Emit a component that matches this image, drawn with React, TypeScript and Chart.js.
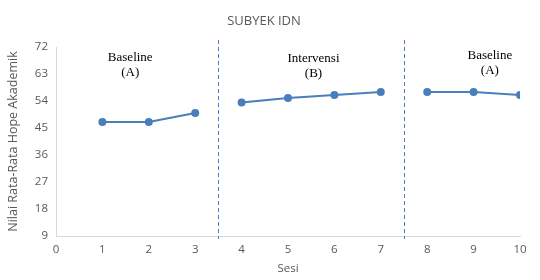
import React, { useEffect, useRef } from "react";
import { Chart, registerables } from "chart.js";

Chart.register(...registerables);

const baselineA1Sessions = [1, 2, 3];
const baselineA1Values = [47, 47, 50];
const interventionSessions = [4, 5, 6, 7];
const interventionValues = [53.5, 55, 56, 57];
const baselineA2Sessions = [8, 9, 10];
const baselineA2Values = [57, 57, 56];
const phaseBoundaries = [3.5, 7.5];
const phaseLabels = [
  { lines: ["Baseline", "(A)"], x: 1.6, y: 68.5 },
  { lines: ["Intervensi", "(B)"], x: 5.55, y: 68.2 },
  { lines: ["Baseline", "(A)"], x: 9.35, y: 69 },
];
const chartTitle = "SUBYEK IDN";
const yTitle = "Nilai Rata-Rata Hope Akademik";
const xTitle = "Sesi";

const LINE_COLOR = "#4a7ebb";

const toPoints = (xs: number[], ys: number[]) => xs.map((x, i) => ({ x, y: ys[i] }));

const overlayPlugin = {
  id: "overlay",
  afterDatasetsDraw(chart: any) {
    const { ctx, scales, chartArea } = chart;
    const xs = scales.x;
    const ys = scales.y;
    ctx.save();
    ctx.strokeStyle = "#4a7ebb";
    ctx.lineWidth = 1;
    ctx.setLineDash([4, 3]);
    phaseBoundaries.forEach((b) => {
      const px = Math.round(xs.getPixelForValue(b)) + 0.5;
      ctx.beginPath();
      ctx.moveTo(px, chartArea.top - 7);
      ctx.lineTo(px, chartArea.bottom + 3);
      ctx.stroke();
    });
    ctx.setLineDash([]);
    ctx.fillStyle = "#000";
    ctx.font = "13px 'Liberation Serif', 'DejaVu Serif', serif";
    ctx.textAlign = "center";
    ctx.textBaseline = "middle";
    phaseLabels.forEach((l) => {
      const px = xs.getPixelForValue(l.x);
      const py = ys.getPixelForValue(l.y);
      l.lines.forEach((t, i) => ctx.fillText(t, px, py + i * 15));
    });
    ctx.fillStyle = "#595959";
    ctx.font = "13px 'Open Sans', 'Liberation Sans', sans-serif";
    ctx.fillText(chartTitle, 264, 21);
    ctx.restore();
  },
};

export default function App() {
  const ref = useRef<HTMLCanvasElement>(null);
  useEffect(() => {
    if (!ref.current) return;
    const ds = (xs: number[], ys: number[]) => ({
      data: toPoints(xs, ys),
      borderColor: LINE_COLOR,
      backgroundColor: LINE_COLOR,
      borderWidth: 2,
      pointRadius: 3,
      showLine: true,
      tension: 0,
    });
    const tickFont = { family: "'Open Sans', 'Liberation Sans', sans-serif", size: 11.5 };
    const titleFont = { family: "'Open Sans', 'Liberation Sans', sans-serif", size: 12.5 };
    const chart = new Chart(ref.current, {
      type: "scatter",
      data: {
        datasets: [
          ds(baselineA1Sessions, baselineA1Values),
          ds(interventionSessions, interventionValues),
          ds(baselineA2Sessions, baselineA2Values),
        ],
      },
      options: {
        animation: false,
        responsive: false,
        layout: { padding: { top: 47, right: 20, left: 0, bottom: 0 } },
        plugins: { legend: { display: false }, tooltip: { enabled: false }, title: { display: false } },
        scales: {
          x: {
            type: "linear",
            min: 0,
            max: 10,
            ticks: { stepSize: 1, color: "#595959", font: tickFont, padding: 7 },
            grid: { display: false, drawTicks: false },
            border: { color: "#d9d9d9" },
            title: { display: true, text: xTitle, color: "#595959", font: tickFont, padding: { top: 2 } },
            afterFit: (s: any) => { s.height = 44; },
          },
          y: {
            min: 9,
            max: 72,
            ticks: { stepSize: 9, color: "#595959", font: tickFont, padding: 8 },
            grid: { display: false, drawTicks: false },
            border: { color: "#d9d9d9" },
            title: { display: true, text: yTitle, color: "#595959", font: titleFont, padding: { top: 6, bottom: 0 } },
            afterFit: (s: any) => { s.width = 56; },
          },
        },
      },
      plugins: [overlayPlugin],
    } as any);
    return () => chart.destroy();
  }, []);
  return (
    <div style={{ position: "absolute", left: 0, top: 0, width: 540, height: 280, background: "#fff" }}>
      <canvas ref={ref} width={540} height={280} />
    </div>
  );
}
